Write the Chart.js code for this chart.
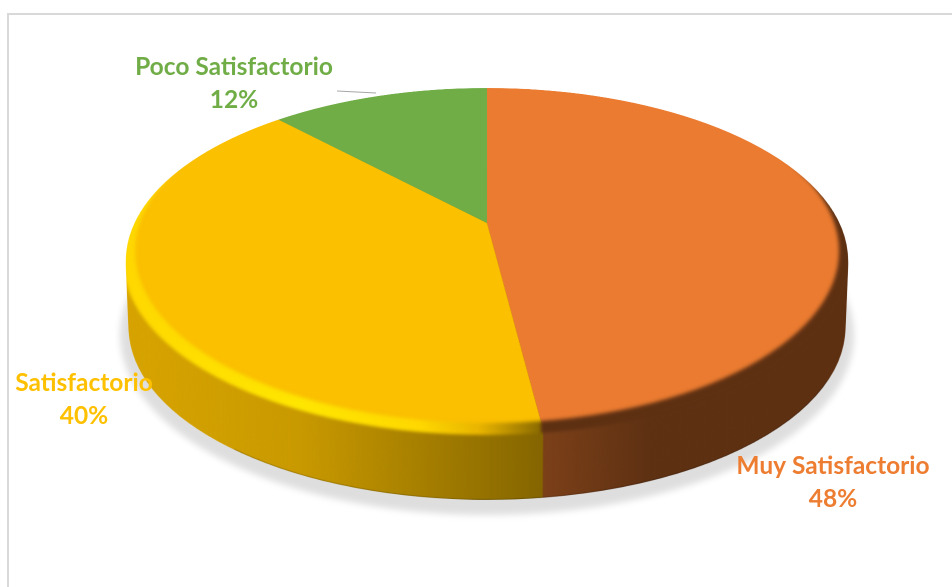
<!DOCTYPE html>
<html lang="es">
<head>
  <meta charset="UTF-8" />
  <title>Satisfacción</title>
  <style>
    html, body {
      margin: 0;
      padding: 0;
      background: #fff;
      overflow: hidden;
    }
    #frame {
      position: absolute;
      left: 7px;
      top: 13px;
      right: 0;
      bottom: 0;
      border-left: 2px solid #d9d9d9;
      border-top: 2px solid #d9d9d9;
    }
    #grafico {
      position: absolute;
      left: 0;
      top: 0;
    }
  </style>
</head>
<body>
  <div id="frame"></div>
  <canvas id="grafico" width="952" height="587"></canvas>

  <script src="https://cdn.jsdelivr.net/npm/chart.js"></script>
  <script>
    const categorias = ["Muy Satisfactorio", "Satisfactorio", "Poco Satisfactorio"];
    const valores = [48, 40, 12];
    const colores = ["#EB7B30", "#FBC000", "#70AD47"];
    const coloresTexto = ["#ED7D31", "#FFC000", "#70AD47"];

    // centre of each two-line label
    const posEtiquetas = [[833, 466], [84, 383], [234, 67]];
    const altoLinea = 33;

    // perspective of the disc: apex of the slices, far and near edge
    const apexX = 487, apexY = 223;
    const k = 0.215, B = 164, A = 352.5;
    const medioY = 260, radioX = 361, radioY = 172;
    const grosor = 68;

    function lienzo(w, h) {
      const c = document.createElement("canvas");
      c.width = w;
      c.height = h;
      return c;
    }

    // remaps the flat pie row by row onto the tilted disc
    function proyectar(origen, arco, D) {
      const sal = lienzo(origen.width, origen.height);
      const g = sal.getContext("2d");
      g.imageSmoothingQuality = "high";
      const filaV = y => {
        const t = (y - apexY) / B;
        return t / (1 + k * t);
      };
      for (let fila = 84 * D; fila < 436 * D; fila++) {
        const v = filaV(fila / D);
        const v2 = filaV((fila + 1) / D);
        const w = 1 - k * v;
        const esc = A / w / arco.outerRadius;
        const sy = (arco.y + v * arco.outerRadius) * D;
        const sh = (v2 - v) * arco.outerRadius * D;
        g.drawImage(origen, 0, sy, origen.width, sh,
          (apexX - arco.x * esc) * D, fila, origen.width * esc, 1);
      }
      return sal;
    }

    // extruded side of the disc, stacked copies of the top face
    function lateral(cara, D) {
      const sal = lienzo(cara.width, cara.height);
      const g = sal.getContext("2d");
      for (let d = grosor; d > 0; d -= 0.5) {
        const s = 1 - 0.008 * d / grosor;
        g.setTransform(s, 0, 0, 1, apexX * D * (1 - s), d * D);
        g.drawImage(cara, 0, 0);
      }
      g.setTransform(D, 0, 0, D, 0, 0);
      g.globalCompositeOperation = "source-atop";
      const luz = g.createLinearGradient(127, 0, 849, 0);
      const parada = x => (x - 127) / 722;
      luz.addColorStop(0, "rgba(0,0,0,0.14)");
      luz.addColorStop(parada(300), "rgba(0,0,0,0.2)");
      luz.addColorStop(parada(541), "rgba(0,0,0,0.47)");
      luz.addColorStop(parada(650), "rgba(0,0,0,0.6)");
      luz.addColorStop(1, "rgba(0,0,0,0.6)");
      g.fillStyle = luz;
      g.fillRect(0, 0, 952, 587);
      // darker line along the lower edge
      g.filter = "blur(1px)";
      g.strokeStyle = "rgba(0,0,0,0.3)";
      g.lineWidth = 1.5;
      g.beginPath();
      g.ellipse(apexX, medioY + grosor, radioX * 0.992, radioY, 0, Math.PI * 0.1, Math.PI * 0.75);
      g.stroke();
      g.filter = "none";
      return sal;
    }

    // bevel around the top face: bright on the yellow side, dark on the orange one
    function bisel(ancho, alto, D) {
      const sal = lienzo(ancho, alto);
      const g = sal.getContext("2d");
      g.setTransform(D, 0, 0, D, 0, 0);
      const tono = g.createLinearGradient(127, 0, 849, 0);
      const parada = x => (x - 127) / 722;
      tono.addColorStop(0, "#FFD800");
      tono.addColorStop(parada(300), "#FFE600");
      tono.addColorStop(parada(420), "#FFD800");
      tono.addColorStop(parada(480), "#E8B400");
      tono.addColorStop(parada(541), "#8A6A00");
      tono.addColorStop(parada(541.01), "#5E3012");
      tono.addColorStop(1, "#5E3012");
      g.fillStyle = tono;
      g.beginPath();
      // a little past the edge so the blur leaves no seam
      g.ellipse(apexX, medioY, radioX + 3, radioY + 3, 0, 0, Math.PI * 2);
      g.fill();
      g.globalCompositeOperation = "destination-out";
      g.filter = "blur(2px)";
      g.fillStyle = "#000";
      g.beginPath();
      g.ellipse(apexX, 251, 352, 172, 0, 0, Math.PI * 2);
      g.fill();
      return sal;
    }

    const disco3d = {
      id: "disco3d",
      afterDraw(chart) {
        const canvas = chart.canvas;
        const ctx = chart.ctx;
        const D = canvas.width / 952;
        const arco = chart.getDatasetMeta(0).data[0];

        const plano = lienzo(canvas.width, canvas.height);
        plano.getContext("2d").drawImage(canvas, 0, 0);
        const cara = proyectar(plano, arco, D);

        // side and top together, so the blurred bevel stays inside the disc
        const cuerpo = lienzo(canvas.width, canvas.height);
        const gc = cuerpo.getContext("2d");
        gc.drawImage(lateral(cara, D), 0, 0);
        gc.drawImage(cara, 0, 0);
        gc.globalCompositeOperation = "source-atop";
        gc.filter = "blur(3px)";
        gc.drawImage(bisel(canvas.width, canvas.height, D), 0, 0);

        ctx.save();
        ctx.setTransform(1, 0, 0, 1, 0, 0);
        ctx.clearRect(0, 0, canvas.width, canvas.height);

        // soft shadow under the disc
        ctx.setTransform(D, 0, 0, D, 0, 0);
        ctx.filter = "blur(7px)";
        ctx.fillStyle = "rgba(0,0,0,0.13)";
        ctx.beginPath();
        ctx.ellipse(apexX, medioY + grosor + 7, radioX + 6, radioY + 8, 0, 0, Math.PI * 2);
        ctx.fill();
        ctx.filter = "none";

        ctx.setTransform(1, 0, 0, 1, 0, 0);
        ctx.drawImage(cuerpo, 0, 0);
        ctx.setTransform(D, 0, 0, D, 0, 0);

        // leader line of the small slice
        ctx.strokeStyle = "#a6a6a6";
        ctx.lineWidth = 1;
        ctx.beginPath();
        ctx.moveTo(337, 91);
        ctx.lineTo(376, 93);
        ctx.stroke();

        ctx.font = "bold 24.5px Lato";
        ctx.textAlign = "center";
        ctx.textBaseline = "middle";
        categorias.forEach((nombre, i) => {
          const [x, y] = posEtiquetas[i];
          ctx.fillStyle = coloresTexto[i];
          ctx.fillText(nombre, x, y);
          ctx.fillText(valores[i] + "%", x, y + altoLinea);
        });
        ctx.restore();
      }
    };

    new Chart(document.getElementById("grafico"), {
      type: "pie",
      data: {
        labels: categorias,
        datasets: [{
          data: valores,
          backgroundColor: colores,
          borderWidth: 0
        }]
      },
      options: {
        responsive: false,
        animation: false,
        devicePixelRatio: 2,
        events: [],
        plugins: {
          legend: { display: false },
          tooltip: { enabled: false }
        }
      },
      plugins: [disco3d]
    });
  </script>
</body>
</html>
